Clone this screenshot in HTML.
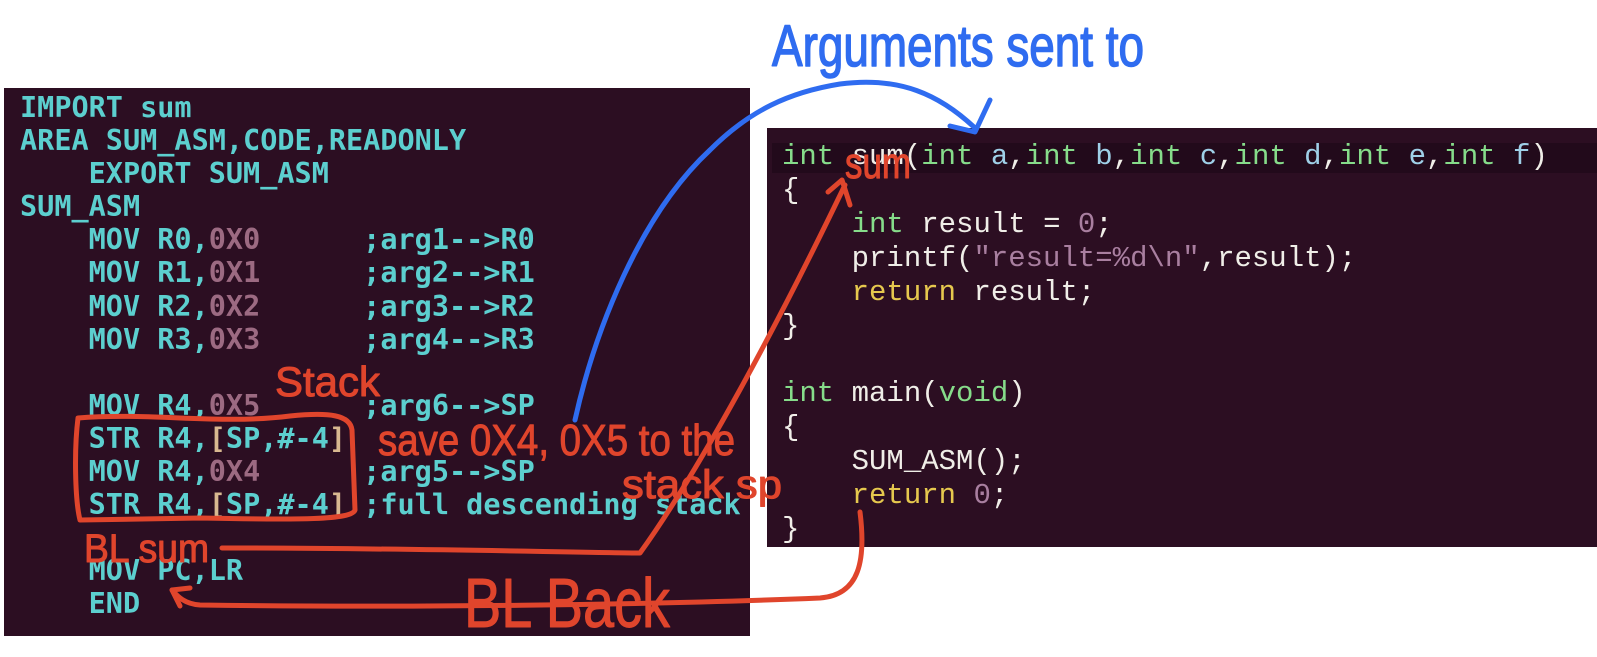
<!DOCTYPE html>
<html><head><meta charset="utf-8"><style>
body{margin:0;width:1597px;height:657px;background:#fff;position:relative;overflow:hidden}
.p{position:absolute;background:#2c0e22}
pre{margin:0;position:absolute;white-space:pre}
.l{font:bold 28.5px/33.1px "DejaVu Sans Mono","Liberation Mono",monospace;color:#5ccfcf;left:20px;top:91px}
.n{color:#9c6a82}.b{color:#d8b890}
.r{font:29px/33.9px "Liberation Mono","DejaVu Sans Mono",monospace;color:#f0eee8;left:782px;top:140px}
.g{color:#86dc8a}.y{color:#e6c84e}.v{color:#a97fa0}.c{color:#9fd0e8}
</style></head><body>
<div class="p" style="left:4px;top:88px;width:746px;height:548px"></div>
<div class="p" style="left:767px;top:128px;width:830px;height:419px"></div>
<div style="position:absolute;left:772px;top:143px;width:825px;height:30px;background:#220a1b"></div>
<pre class="l">IMPORT sum
AREA SUM_ASM,CODE,READONLY
    EXPORT SUM_ASM
SUM_ASM
    MOV R0,<span class="n">0X0</span>      ;arg1-->R0
    MOV R1,<span class="n">0X1</span>      ;arg2-->R1
    MOV R2,<span class="n">0X2</span>      ;arg3-->R2
    MOV R3,<span class="n">0X3</span>      ;arg4-->R3

    MOV R4,<span class="n">0X5</span>      ;arg6-->SP
    STR R4,<span class="b">[</span>SP,#-4<span class="b">]</span>
    MOV R4,<span class="n">0X4</span>      ;arg5-->SP
    STR R4,<span class="b">[</span>SP,#-4<span class="b">]</span> ;full descending stack

    MOV PC,LR
    END</pre>
<pre class="r"><span class="g">int</span> sum(<span class="g">int</span> <span class="c">a</span>,<span class="g">int</span> <span class="c">b</span>,<span class="g">int</span> <span class="c">c</span>,<span class="g">int</span> <span class="c">d</span>,<span class="g">int</span> <span class="c">e</span>,<span class="g">int</span> <span class="c">f</span>)
{
    <span class="g">int</span> result = <span class="v">0</span>;
    printf(<span class="v">"result=%d\n"</span>,result);
    <span class="y">return</span> result;
}

<span class="g">int</span> main(<span class="g">void</span>)
{
    SUM_ASM();
    <span class="y">return</span> <span class="v">0</span>;
}</pre>
<svg width="1597" height="657" style="position:absolute;left:0;top:0" fill="none" stroke-linecap="round" stroke-linejoin="round">
<g stroke="#2f6cf0" stroke-width="5">
<path d="M575,420 C595,330 640,215 710,150 C750,110 790,92 840,84 C900,76 940,95 975,128"/>
<path d="M990,100 L975,132 L950,126"/>
</g>
<text x="772" y="66" fill="#2f6cf0" stroke="#2f6cf0" stroke-width="1.5" font-family="Liberation Sans, sans-serif" font-size="58" textLength="372" lengthAdjust="spacingAndGlyphs">Arguments sent to</text>
<g stroke="#e0452c" stroke-width="5">
<path d="M78,418 C150,412 220,425 290,416 C330,412 350,415 352,430 L355,510 C352,520 300,520 200,518 L80,520 C75,500 74,450 78,418Z"/>
<path d="M222,548 C400,548 550,552 640,553 C700,470 780,320 845,185"/>
<path d="M828,192 L842,180 L850,205"/>
<path d="M860,512 C866,560 860,595 820,598 C650,605 400,608 200,605 C185,604 178,597 172,590"/>
<path d="M172,590 L180,606 M172,590 L190,588"/>
</g>
<g fill="#e0452c" stroke="#e0452c" stroke-width="1" font-family="Liberation Sans, sans-serif">
<text x="275" y="396" font-size="42" textLength="105" lengthAdjust="spacingAndGlyphs">Stack</text>
<text x="378" y="455" font-size="44" textLength="357" lengthAdjust="spacingAndGlyphs">save 0X4, 0X5 to the</text>
<text x="622" y="498" font-size="40" textLength="160" lengthAdjust="spacingAndGlyphs">stack sp</text>
<text x="84" y="562" font-size="40" textLength="125" lengthAdjust="spacingAndGlyphs">BL sum</text>
<text x="845" y="178" font-size="44" textLength="66" lengthAdjust="spacingAndGlyphs">sum</text>
<text x="464" y="627" font-size="70" textLength="206" lengthAdjust="spacingAndGlyphs">BL Back</text>
</g>
</svg>
</body></html>
